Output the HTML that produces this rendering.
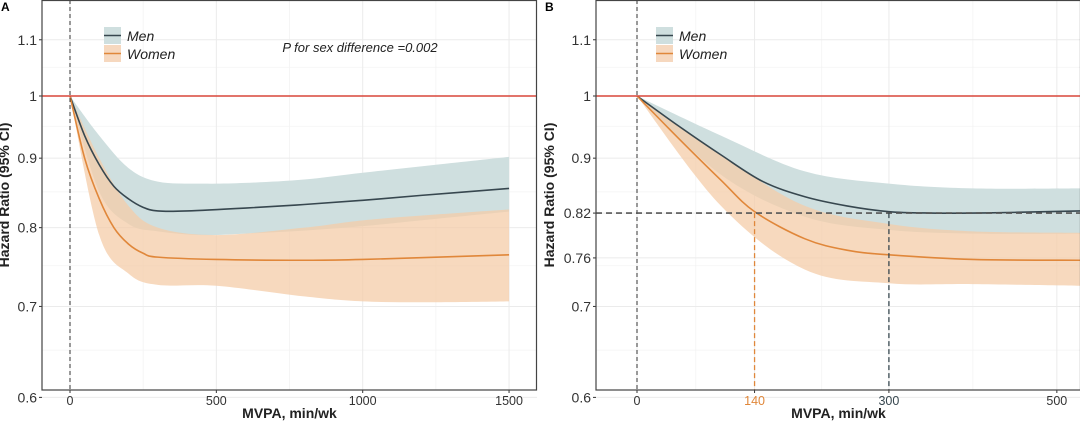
<!DOCTYPE html>
<html><head><meta charset="utf-8"><style>
html,body{margin:0;padding:0;background:#fff;}
svg{display:block;font-family:"Liberation Sans",Arial,sans-serif;}
</style></head><body>
<svg id="chart" width="1080" height="425" viewBox="0 0 1080 425"></svg>
<script>
// ---------- Data ----------
const yTicksA = [0.6, 0.7, 0.8, 0.9, 1, 1.1];
const yTickLabelsA = ["0.6","0.7","0.8","0.9","1","1.1"];
const yTicksB = [0.6, 0.7, 0.76, 0.82, 0.9, 1, 1.1];
const yTickLabelsB = ["0.6","0.7","0.76","0.82","0.9","1","1.1"];
const xTicksA = [0, 500, 1000, 1500];
const xTicksB = [0, 140, 300, 500];

const menAx = [0, 50, 100, 150, 200, 250, 300, 400, 600, 800, 1000, 1200, 1500];
const menAy = [1, 0.935, 0.89, 0.858, 0.84, 0.828, 0.823, 0.823, 0.827, 0.832, 0.838, 0.845, 0.855];
const menAciX = [0, 100, 200, 300, 450, 600, 800, 1000, 1250, 1500];
const menAup = [1, 0.935, 0.885, 0.865, 0.862, 0.863, 0.868, 0.878, 0.89, 0.902];
const menAlo = [1, 0.85, 0.805, 0.795, 0.79, 0.792, 0.796, 0.802, 0.812, 0.822];
const womenAx = [0, 50, 100, 150, 200, 250, 300, 500, 800, 1000, 1500];
const womenAy = [1, 0.9, 0.84, 0.8, 0.778, 0.766, 0.761, 0.758, 0.757, 0.758, 0.764];
const womenAciX = [0, 100, 200, 300, 500, 800, 1000, 1250, 1500];
const womenAup = [1, 0.9, 0.83, 0.80, 0.79, 0.80, 0.81, 0.818, 0.825];
const womenAlo = [1, 0.79, 0.74, 0.726, 0.725, 0.712, 0.706, 0.705, 0.706];

const menBx = [0, 50, 100, 150, 200, 250, 300, 350, 400, 450, 530];
const menBy = [1, 0.95, 0.905, 0.865, 0.843, 0.83, 0.822, 0.82, 0.82, 0.821, 0.823];
const menBciX = [0, 100, 200, 300, 400, 530];
const menBup = [1, 0.935, 0.88, 0.862, 0.855, 0.855];
const menBlo = [1, 0.875, 0.815, 0.797, 0.792, 0.792];
const womenBx = [0, 50, 100, 140, 200, 250, 300, 400, 530];
const womenBy = [1, 0.93, 0.867, 0.822, 0.785, 0.77, 0.764, 0.758, 0.757];
const womenBciX = [0, 100, 200, 300, 400, 530];
const womenBup = [1, 0.905, 0.83, 0.805, 0.795, 0.793];
const womenBlo = [1, 0.83, 0.745, 0.728, 0.727, 0.725];

const refWomenB = [140, 0.82];
const refMenB = [300, 0.82];

// ---------- Drawing ----------
const NS = "http://www.w3.org/2000/svg";
const svg = document.getElementById("chart");
function mk(tag, attrs, parent){
  const e = document.createElementNS(NS, tag);
  for (const k in attrs) e.setAttribute(k, attrs[k]);
  (parent||svg).appendChild(e);
  return e;
}
function crPath(pts){
  let d = "M" + pts[0][0].toFixed(2) + "," + pts[0][1].toFixed(2);
  for (let i=0;i<pts.length-1;i++){
    const p0 = pts[Math.max(0,i-1)], p1 = pts[i], p2 = pts[i+1], p3 = pts[Math.min(pts.length-1,i+2)];
    const c1x = p1[0]+(p2[0]-p0[0])/6, c1y = p1[1]+(p2[1]-p0[1])/6;
    const c2x = p2[0]-(p3[0]-p1[0])/6, c2y = p2[1]-(p3[1]-p1[1])/6;
    d += " C"+c1x.toFixed(2)+","+c1y.toFixed(2)+" "+c2x.toFixed(2)+","+c2y.toFixed(2)+" "+p2[0].toFixed(2)+","+p2[1].toFixed(2);
  }
  return d;
}
function crSeg(pts){ return crPath(pts).replace(/^M[^C]*/, ""); }

function panel(cfg){
  const g = mk("g", {});
  
  
  const L = cfg.left, R = cfg.right, T = 0, B = 390;
  const xS = v => cfg.x0 + v * cfg.kx;
  const yS = v => 96 - Math.log(v) * 590;
  const minorY = [0.65, 0.75, 0.85, 0.95, 1.05];
  minorY.forEach(v => {
    const l = mk("line", {x1:L, x2:R, y1:yS(v), y2:yS(v), stroke:"#f3f3f3", "stroke-width":0.8}, g);
    
    
  });
  cfg.minorX.forEach(v => {
    const l = mk("line", {x1:xS(v), x2:xS(v), y1:T, y2:B, stroke:"#f3f3f3", "stroke-width":0.8}, g);
    
    
  });
  cfg.yTicks.forEach((v,i) => {
    const l = mk("line", {x1:L, x2:R, y1:yS(v), y2:yS(v), stroke:"#ebebeb", "stroke-width":1}, g);
    
    
    const t = mk("text", {x:L-5, y:yS(v)+5, "text-anchor":"end", "font-size":14, fill:"#333"}, g);
    t.textContent = cfg.yLabels[i];
    
    
    mk("line", {x1:L-3, x2:L, y1:yS(v), y2:yS(v), stroke:"#333"}, g);
  });
  cfg.xTicks.forEach((v,i) => {
    const l = mk("line", {x1:xS(v), x2:xS(v), y1:T, y2:B, stroke:"#ebebeb", "stroke-width":1}, g);
    
    
    const t = mk("text", {x:xS(v), y:B+15, "text-anchor":"middle", "font-size":12.5, fill: cfg.xColors ? cfg.xColors[i] : "#333"}, g);
    t.textContent = String(v);
    
    
    mk("line", {x1:xS(v), x2:xS(v), y1:B, y2:B+3, stroke:"#333"}, g);
  });
  function band(xs, up, lo, fill, name){
    const top = xs.map((x,i)=>[xS(x), yS(up[i])]);
    const bot = xs.map((x,i)=>[xS(x), yS(lo[i])]).reverse();
    const d = crPath(top) + " L" + bot[0][0] + "," + bot[0][1] + crSeg(bot) + " Z";
    const p = mk("path", {d:d, fill:fill, stroke:"none"}, g);
    
    
  }
  function line(xs, ys, color, name){
    const p = mk("path", {d:crPath(xs.map((x,i)=>[xS(x), yS(ys[i])])), fill:"none", stroke:color, "stroke-width":1.6}, g);
    
    
  }
  band(cfg.menCiX, cfg.menUp, cfg.menLo, "#cfdfdf", "men-ci-band");
  band(cfg.womenCiX, cfg.womenUp, cfg.womenLo, "rgba(244,204,168,0.75)", "women-ci-band");
  line(cfg.menX, cfg.menY, "#37474f", "men-line");
  line(cfg.womenX, cfg.womenY, "#e0873a", "women-line");
  const h = mk("line", {x1:L, x2:R, y1:yS(1), y2:yS(1), stroke:"#d9463a", "stroke-width":1.4}, g);
  
  
  const v0 = mk("line", {x1:xS(0), x2:xS(0), y1:T, y2:B, stroke:"#333", "stroke-width":1, "stroke-dasharray":"4,3"}, g);
  
  
  if (cfg.refs){
    const hy = yS(refMenB[1]);
    const hl = mk("line", {x1:L, x2:R, y1:hy, y2:hy, stroke:"#555", "stroke-width":1.6, "stroke-dasharray":"6,4"}, g);
    
    
    const w = mk("line", {x1:xS(refWomenB[0]), x2:xS(refWomenB[0]), y1:yS(refWomenB[1]), y2:B, stroke:"#e0873a", "stroke-width":1.3, "stroke-dasharray":"5,3"}, g);
    
    
    const m = mk("line", {x1:xS(refMenB[0]), x2:xS(refMenB[0]), y1:yS(refMenB[1]), y2:B, stroke:"#37474f", "stroke-width":1.3, "stroke-dasharray":"5,3"}, g);
    
    
  }
  const fr = mk("rect", {x:L, y:T+0.5, width:R-L-0.5, height:B-T-0.5, fill:"none", stroke:"#444", "stroke-width":1.2}, g);
  
  
  const xt = mk("text", {x:(L+R)/2, y:418, "text-anchor":"middle", "font-size":14, "font-weight":"bold", fill:"#222"}, g);
  xt.textContent = "MVPA, min/wk";
  
  
  const yt = mk("text", {x:0, y:0, "text-anchor":"middle", "font-size":14, "font-weight":"bold", fill:"#222", transform:"translate("+(L-cfg.ytOff)+",195) rotate(-90)"}, g);
  yt.textContent = "Hazard Ratio (95% CI)";
  
  
  const pl = mk("text", {x:cfg.plX, y:11, "font-size":12, "font-weight":"bold", fill:"#000"}, g);
  pl.textContent = cfg.label;
  
  
  const lx = cfg.legX;
  const lg = mk("g", {}, g);
  
  
  mk("rect", {x:lx, y:27, width:17, height:17, fill:"#cfdfdf"}, lg);
  mk("line", {x1:lx, x2:lx+17, y1:35.5, y2:35.5, stroke:"#37474f", "stroke-width":1.6}, lg);
  mk("rect", {x:lx, y:45, width:17, height:17, fill:"#f6d8bf"}, lg);
  mk("line", {x1:lx, x2:lx+17, y1:53.5, y2:53.5, stroke:"#e0873a", "stroke-width":1.6}, lg);
  const t1 = mk("text", {x:lx+23, y:41, "font-size":14, "font-style":"italic", fill:"#222"}, lg);
  t1.textContent = "Men";
  
  
  const t2 = mk("text", {x:lx+23, y:59, "font-size":14, "font-style":"italic", fill:"#222"}, lg);
  t2.textContent = "Women";
  
  
  if (cfg.pText){
    const p = mk("text", {x:360, y:52, "text-anchor":"middle", "font-size":13, "font-style":"italic", fill:"#222"}, g);
    p.textContent = cfg.pText;
    
    
  }
}

panel({name:"panel-a", label:"A", left:42, right:537, x0:70, kx:0.2927, ytOff:33, plX:1,
  yTicks:yTicksA, yLabels:yTickLabelsA, xTicks:xTicksA, minorX:[250,750,1250],
  menX:menAx, menY:menAy, menCiX:menAciX, menUp:menAup, menLo:menAlo,
  womenX:womenAx, womenY:womenAy, womenCiX:womenAciX, womenUp:womenAup, womenLo:womenAlo,
  legX:104, pText:"P for sex difference =0.002"});
panel({name:"panel-b", label:"B", left:596, right:1081, x0:637, kx:0.8397, ytOff:42, plX:545,
  yTicks:yTicksB, yLabels:yTickLabelsB, xTicks:xTicksB, minorX:[70,220,400],
  xColors:["#333","#e0873a","#37474f","#333"],
  menX:menBx, menY:menBy, menCiX:menBciX, menUp:menBup, menLo:menBlo,
  womenX:womenBx, womenY:womenBy, womenCiX:womenBciX, womenUp:womenBup, womenLo:womenBlo,
  legX:656, refs:true});
</script>
</body></html>
